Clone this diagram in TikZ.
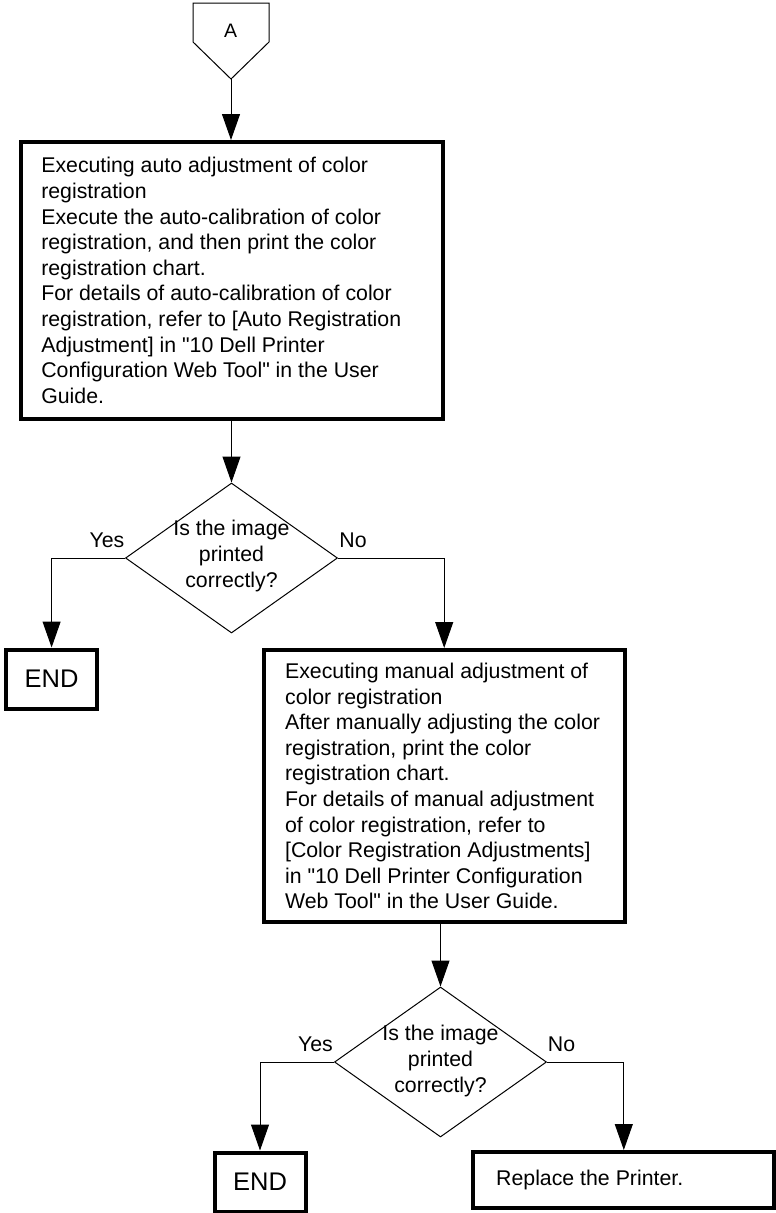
\documentclass[tikz,border=0pt]{standalone}
\usepackage{fontspec}
\setmainfont{Liberation Sans}[Ligatures=TeXOff]
\usetikzlibrary{arrows.meta,shapes.geometric}
\begin{document}
\begin{tikzpicture}[x=1pt,y=-1pt,
  body/.style={font=\fontsize{21.3}{25.6}\selectfont},
  thickbox/.style={draw, line width=4pt, rectangle, inner sep=0pt},
  boxtext/.style={body, align=left, inner sep=0pt, anchor=west},
  decision/.style={draw, line width=1pt, diamond, inner sep=0pt, minimum width=212pt, minimum height=150pt},
  dectext/.style={body, align=center, inner sep=0pt},
  lbl/.style={body, inner sep=0pt, anchor=base},
  conn/.style={line width=1pt, -{Triangle[length=26pt,width=18pt]}},
  endtext/.style={font=\fontsize{25.5}{30}\selectfont}
]
\useasboundingbox (0,0) rectangle (776,1213);

% off-page connector A
\draw[line width=1pt] (193,3) -- (269,3) -- (269,42) -- (231,79) -- (193,42) -- cycle;
\node[lbl, font=\fontsize{19.5}{23}\selectfont] (A) at (230.7,37.3) {A};
\coordinate (Atip) at (231,79);

% box 1
\node[thickbox, minimum width=422pt, minimum height=277pt] (b1) at (231.6,280.5) {};
\node[boxtext] (b1t) at ([xshift=22.5pt]b1.west) {Executing auto adjustment of color\\
registration\\
Execute the auto-calibration of color\\
registration, and then print the color\\
registration chart.\\
For details of auto-calibration of color\\
registration, refer to [Auto Registration\\
Adjustment] in "10 Dell Printer\\
Configuration Web Tool" in the User\\
Guide.};

% decision 1
\node[decision] (d1) at (231.5,558) {};
\node[dectext] (d1t) at ([yshift=2pt]d1.center) {Is the image\\printed\\correctly?};
\node[lbl] (y1) at (107,547.5) {Yes};
\node[lbl] (n1) at (353,547.5) {No};

% END 1
\node[thickbox, minimum width=91pt, minimum height=59pt, endtext] (e1) at (51.6,679) {END};

% box 2
\node[thickbox, minimum width=361pt, minimum height=272pt] (b2) at (444.2,786) {};
\node[boxtext] (b2t) at ([xshift=23.2pt]b2.west) {Executing manual adjustment of\\
color registration\\
After manually adjusting the color\\
registration, print the color\\
registration chart.\\
For details of manual adjustment\\
of color registration, refer to\\
{[}Color Registration Adjustments]\\
in "10 Dell Printer Configuration\\
Web Tool" in the User Guide.};

% decision 2
\node[decision] (d2) at (440.5,1062) {};
\node[dectext] (d2t) at ([yshift=1pt]d2.center) {Is the image\\printed\\correctly?};
\node[lbl] (y2) at (315.5,1051.7) {Yes};
\node[lbl] (n2) at (561.5,1051.7) {No};

% END 2 and Replace
\node[thickbox, minimum width=91pt, minimum height=59pt, endtext] (e2) at (260,1182) {END};
\node[thickbox, minimum width=301pt, minimum height=56pt] (r) at (623.8,1180) {};
\node[boxtext] (rt) at ([xshift=24.7pt]r.west) {Replace the Printer.};

% connectors
\draw[conn] (Atip) -- (Atip |- b1.north);
\draw[conn] (b1.south -| d1.north) -- (d1.north);
\draw[conn] (d1.west) -| (e1.north);
\draw[conn] (d1.east) -| (b2.north);
\draw[conn] (b2.south -| d2.north) -- (d2.north);
\draw[conn] (d2.west) -| (e2.north);
\draw[conn] (d2.east) -| (r.north);
\end{tikzpicture}
\end{document}
